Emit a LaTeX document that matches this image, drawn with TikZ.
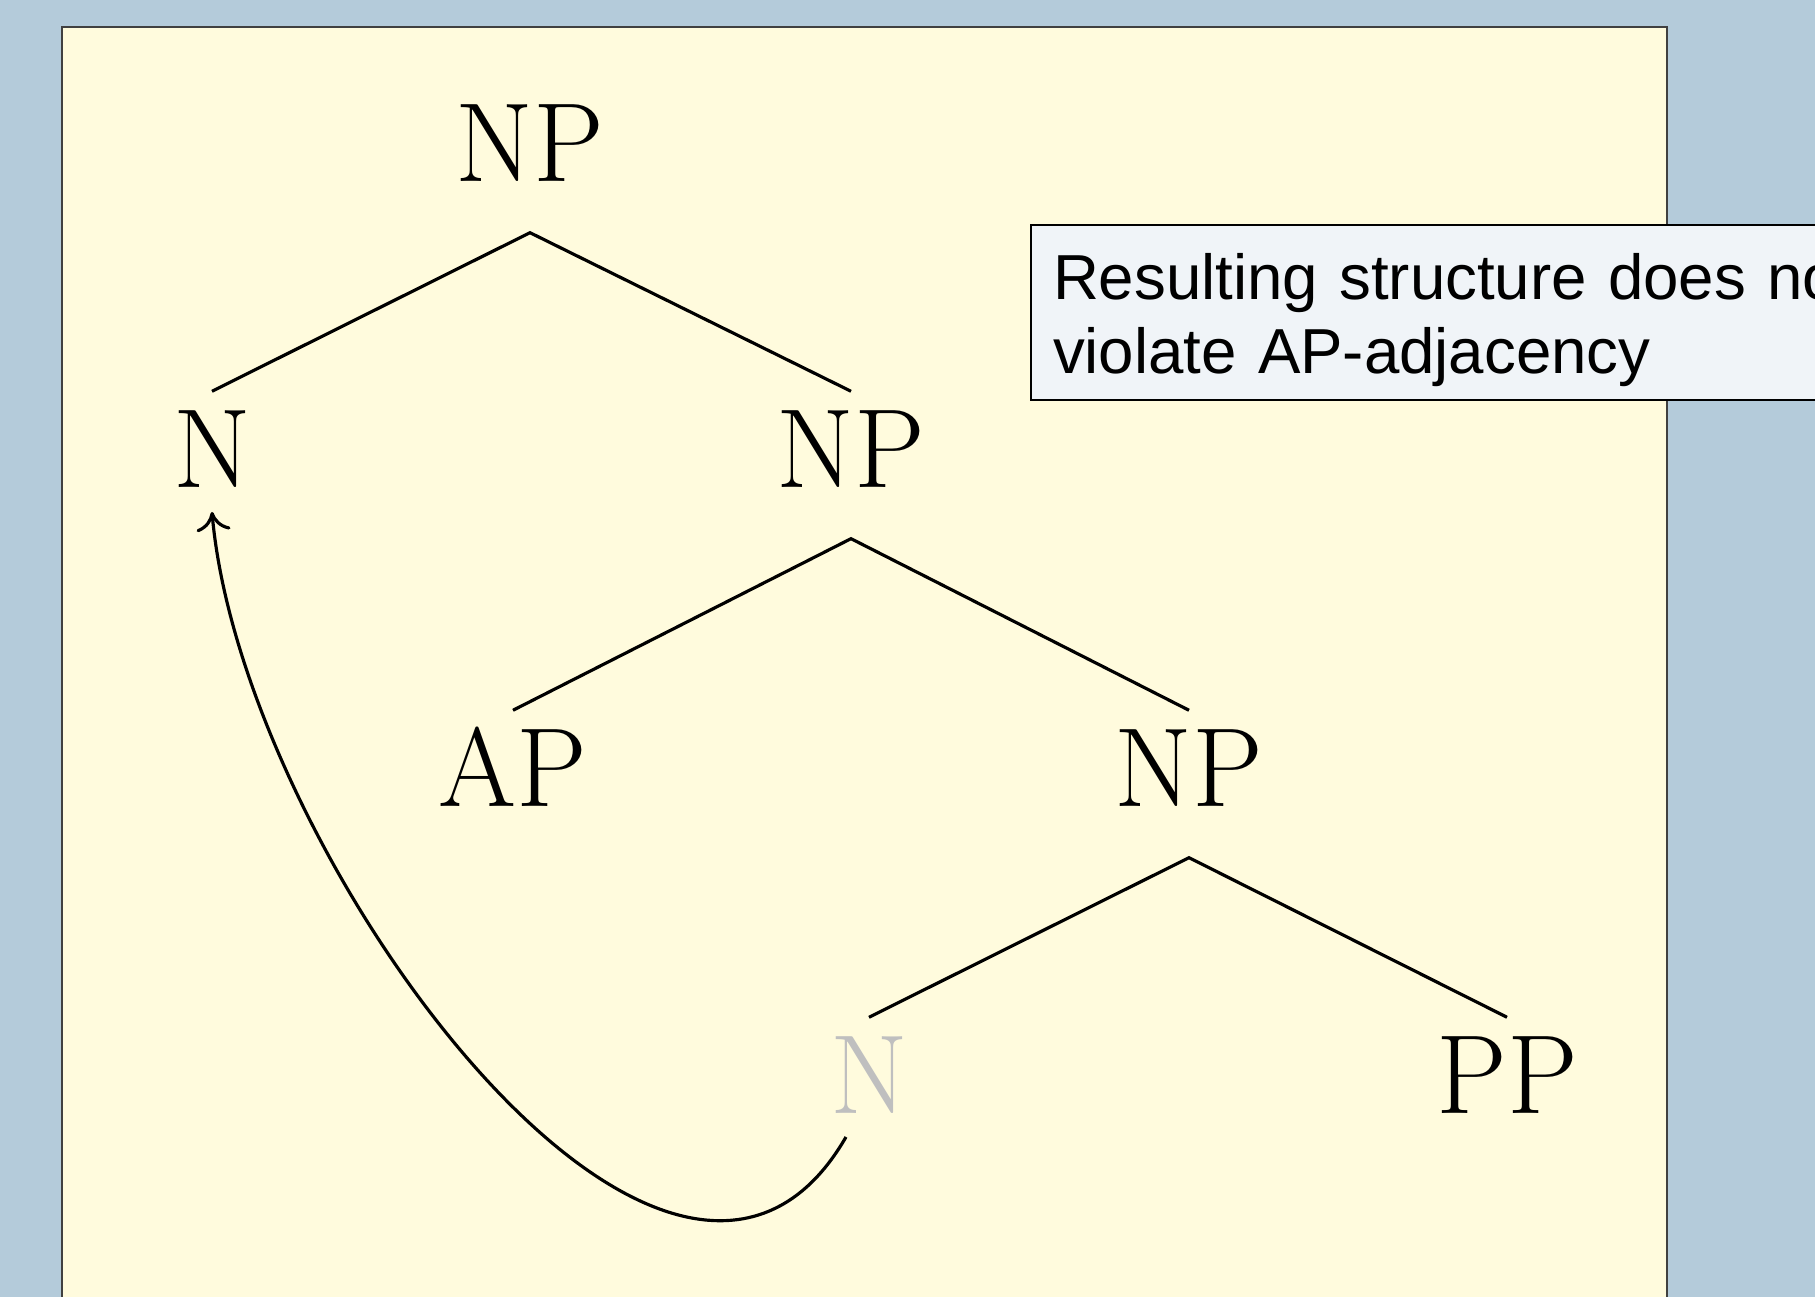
\documentclass[tikz,border=0pt]{standalone}
\usepackage{xcolor}
\usepackage{fontspec}
\setsansfont{Liberation Sans}
\usepackage{tikz}
\usetikzlibrary{arrows.meta, calc}

\definecolor{slideblue}{RGB}{180,203,218}
\definecolor{paneyellow}{RGB}{255,251,221}
\definecolor{notegray}{RGB}{240,244,248}

\begin{document}
\begin{tikzpicture}[>={Computer Modern Rightarrow[length=1.9mm,width=3.4mm]},
    cat/.style={anchor=base, font=\fontsize{32}{38}\selectfont, inner xsep=0.1cm,
                inner ysep=0.19cm, text height=0.77cm, text depth=0.31cm},
    branch/.style={line width=0.9pt},
    note/.style={draw=black, line width=0.6pt, fill=notegray, align=left,
                 font=\sffamily\fontsize{18.1}{21.3}\selectfont, text width=11cm,
                 inner xsep=0.22cm, inner ysep=0.1cm, minimum height=1.75cm}]
    % slide and panel
    \useasboundingbox (0,0) rectangle (18.15,12.97);
    \fill[slideblue] (0,0) rectangle (18.15,12.97);
    \draw[fill=paneyellow, draw=black!75, line width=0.7pt] (0.62,-0.5) rectangle (16.67,12.70);

    % categories
    \node[cat] (np1) at (5.30,11.15) {NP};
    \node[cat] (n1)  at (2.12,8.09)  {N};
    \node[cat] (np2) at (8.51,8.09)  {NP};
    \node[cat] (ap)  at (5.13,4.90)  {AP};
    \node[cat] (np3) at (11.89,4.90) {NP};
    \node[cat, text=black!25] (n2) at (8.69,1.83) {N};
    \node[cat] (pp)  at (15.07,1.83) {PP};

    % branches
    \draw[branch] (n1.north) -- (np1.south) -- (np2.north);
    \draw[branch] (ap.north) -- (np2.south) -- (np3.north);
    \draw[branch] (n2.north) -- (np3.south) -- (pp.north);

    % head movement
    \draw[branch, ->] ($(n2.base)+(-0.23,-0.23)$) to[out=240, in=-85] ($(n1.base)+(0,-0.24)$);

    % remark
    \node[note, anchor=north west] (remark) at (10.30,10.73)
        {\rule{0pt}{0.64cm}Resulting structure does not\\
         \rule[-0.16cm]{0pt}{0.16cm}violate AP-adjacency};
\end{tikzpicture}
\end{document}
